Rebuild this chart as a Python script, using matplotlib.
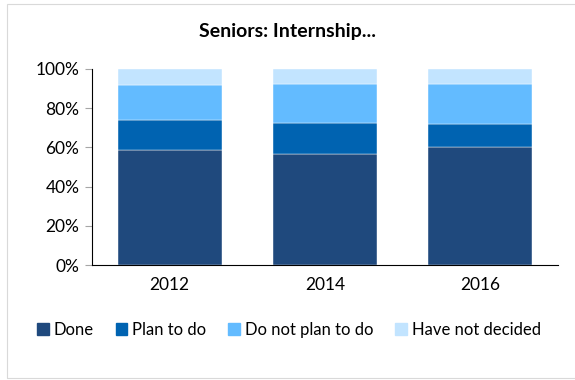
import matplotlib.pyplot as plt
import matplotlib.patches as mpatches
import numpy as np

# data (percent)
years = ["2012", "2014", "2016"]
done = [58.5, 56.8, 60.0]
plan_to_do = [15.5, 15.8, 12.1]
do_not_plan = [17.8, 19.6, 20.4]
not_decided = [8.2, 7.8, 7.5]

series_names = ["Done", "Plan to do", "Do not plan to do", "Have not decided"]
series_colors = ["#1F497D", "#0063B1", "#63BBFF", "#C2E4FF"]

plt.rcParams['font.family'] = ['Lato', 'DejaVu Sans']

fig = plt.figure(figsize=(5.75, 3.80), dpi=100)
W, H = 575, 380
ax = fig.add_axes([92 / W, 1 - 265 / H, (558 - 92) / W, (265 - 69) / H])

# outer chart frame
fig.patches.append(mpatches.Rectangle((7 / W, 1 - 378 / H), 600 / W, (378 - 4) / H,
                                      transform=fig.transFigure, fill=False,
                                      edgecolor="#D9D9D9", linewidth=0.8))

x = np.arange(len(years))
bottom = np.zeros(len(years))
for vals, name, col in zip([done, plan_to_do, do_not_plan, not_decided], series_names, series_colors):
    ax.bar(x, vals, width=0.67, bottom=bottom, color=col, label=name,
           edgecolor="white", linewidth=0.3)
    bottom += np.array(vals)

ax.set_xlim(-0.5, len(years) - 0.5)
ax.set_ylim(0, 100)
ax.set_yticks([0, 20, 40, 60, 80, 100])
ax.set_yticklabels([f"{v}%" for v in [0, 20, 40, 60, 80, 100]], fontsize=12.5)
ax.set_xticks(x)
ax.set_xticklabels(years, fontsize=12.5)
ax.tick_params(axis="x", length=0, pad=9)
ax.tick_params(axis="y", length=5, color="#A6A6A6", pad=4)

ax.spines["top"].set_visible(False)
ax.spines["right"].set_visible(False)
ax.spines["left"].set_color("black")
ax.spines["bottom"].set_color("black")

fig.text(0.5, 1 - 32 / H, "Seniors: Internship...", ha="center", va="center",
         fontsize=14, fontweight="bold")

handles = [mpatches.Patch(color=c) for c in series_colors]
fig.legend(handles, series_names, loc="center", bbox_to_anchor=(289 / W, 1 - 330 / H),
           ncol=4, frameon=False, fontsize=12, handlelength=0.7, handleheight=0.7,
           handletextpad=0.3, columnspacing=1.3)

fig.savefig("out.png", dpi=100)
